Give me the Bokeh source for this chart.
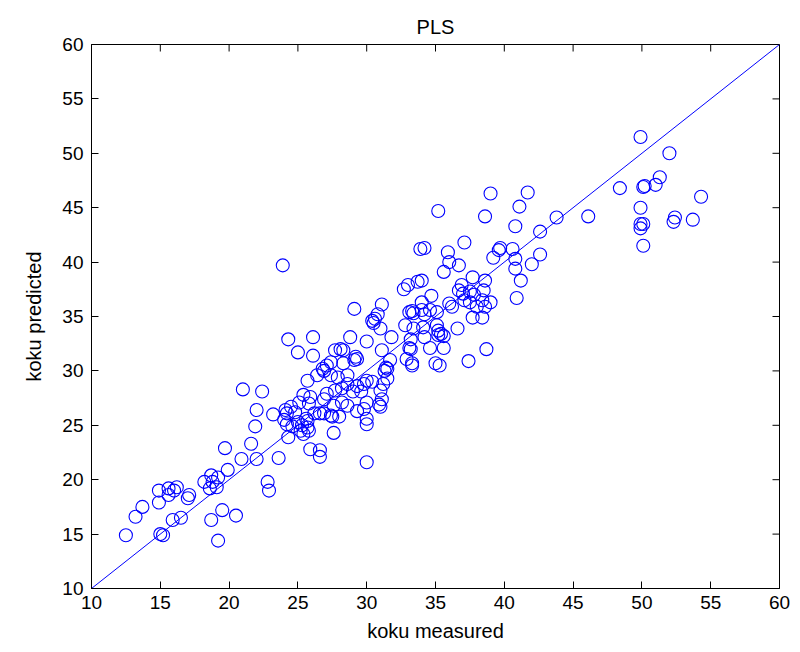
import math
from bokeh.plotting import figure
from bokeh.models import LinearAxis, ColumnDataSource, FixedTicker, Range1d
from bokeh.embed import file_html
from bokeh.resources import INLINE

measured = [
    12.5, 13.2, 13.7, 14.9, 14.9, 15.0, 15.2, 15.6, 15.6, 16.0, 16.2, 15.9, 16.5, 17.0, 17.1,
    18.2, 18.6, 18.7, 18.8, 19.1, 19.2, 18.7, 19.5, 19.2, 20.5, 19.7, 19.9, 20.9, 21.0, 21.6,
    21.9, 22.0, 22.0, 22.4, 22.8, 22.9, 23.2, 23.6, 24.0, 24.2, 24.3,
    23.9, 24.3, 25.0, 26.1, 26.1, 24.1, 24.5, 24.8, 24.2, 24.6, 25.0, 25.2, 25.4, 25.7, 25.8,
    25.3, 25.6, 25.7, 25.9, 26.6, 26.6, 25.1, 25.4, 25.8, 25.9, 25.7, 26.2, 26.6, 26.9, 26.9,
    27.1, 26.4, 26.9, 26.8, 27.1, 27.4, 27.4, 27.9, 27.7, 27.6, 27.4, 27.5, 27.6, 28.0, 28.2,
    28.2, 28.6, 28.6, 28.6, 28.3, 27.7, 28.1, 28.3, 28.8, 29.1, 29.1, 29.2, 29.3, 29.0, 29.3,
    29.6, 29.8, 30.0, 29.3, 29.8, 30.0, 30.0, 30.0, 30.0, 30.0, 30.4, 30.5, 30.6, 30.8, 31.1,
    31.0, 31.1, 31.0, 31.2, 31.1, 31.0, 30.9, 30.4, 31.3, 31.4, 31.5, 31.5, 31.7, 31.8,
    32.7, 33.0, 33.7, 33.9, 33.3, 33.1, 33.4, 32.8, 33.4, 33.2, 33.1, 33.2, 32.9, 33.3, 33.3,
    34.0, 34.0, 34.2, 34.7, 34.6, 35.1, 34.1, 34.2, 35.2, 35.4, 35.6, 35.2, 35.1, 34.6, 35.6,
    35.0, 35.3, 36.0, 36.2, 36.6, 37.4, 38.7, 34.0, 34.2, 35.2, 35.9, 36.0, 36.7, 35.6, 37.1,
    36.9, 36.7, 37.0, 37.5, 37.8, 37.1, 37.5, 38.4, 39.0, 38.0, 38.6, 37.7, 38.6, 38.5, 37.7,
    38.4, 39.0, 38.6, 41.7, 41.1, 40.8, 43.8, 46.1, 42.6, 39.7, 39.6, 40.6, 39.2, 40.8, 42.6,
    42.0, 40.8, 41.2, 40.9, 48.4, 49.9, 52.0, 51.3, 51.0, 50.2, 50.1, 54.3, 49.9, 52.4, 52.3,
    53.7, 49.9, 50.1, 49.9, 50.1,
]
predicted = [
    14.9, 16.6, 17.5, 17.9, 19.0, 15.0, 14.9, 19.2, 18.6, 19.0, 19.3, 16.3, 16.5, 18.3, 18.6,
    19.8, 19.2, 20.4, 19.8, 19.3, 20.2, 16.3, 17.2, 14.4, 16.7, 22.9, 20.9, 21.9, 28.3, 23.3,
    24.9, 26.4, 21.9, 28.1, 19.8, 19.0, 26.0, 22.0, 25.5, 26.1, 23.9,
    39.7, 32.9, 31.7, 33.1, 31.4, 26.4, 26.7, 26.2, 25.1, 24.9, 25.3, 24.5, 24.2, 24.8, 24.5,
    25.0, 25.6, 25.4, 22.8, 22.7, 22.1, 27.1, 27.8, 27.0, 27.6, 29.1, 26.1, 26.1, 26.1, 27.4,
    27.9, 29.6, 30.0, 30.2, 30.5, 30.8, 29.6, 29.4, 28.2, 26.8, 25.9, 25.8, 24.3, 25.8, 27.1,
    28.4, 26.8, 28.8, 29.6, 30.7, 31.9, 32.0, 31.9, 33.1, 35.7, 31.0, 31.3, 31.1, 28.1, 28.6,
    28.1, 28.8, 29.1, 26.3, 26.5, 27.1, 25.6, 25.1, 21.6, 32.7, 34.6, 34.4, 34.8, 35.2, 36.1,
    33.9, 31.9, 28.2, 28.8, 27.4, 26.7, 26.9, 29.0, 30.0, 30.3, 29.3, 30.2, 31.0, 33.1,
    37.5, 37.9, 38.2, 41.2, 35.5, 35.4, 35.3, 34.2, 33.9, 32.9, 32.1, 32.0, 31.1, 30.5, 30.7,
    36.3, 35.6, 35.2, 36.9, 35.6, 35.4, 34.0, 33.1, 33.3, 33.4, 33.2, 33.7, 34.2, 32.1, 32.1,
    30.7, 30.5, 36.2, 35.9, 33.9, 30.9, 32.0, 38.3, 41.3, 44.7, 40.9, 40.0, 39.7, 39.1, 41.8,
    37.9, 37.4, 37.1, 37.3, 37.0, 36.5, 36.3, 36.5, 36.3, 35.9, 35.9, 38.6, 38.3, 37.4, 34.9,
    34.9, 46.3, 44.2, 46.4, 45.1, 43.3, 44.1, 44.2, 42.8, 41.3, 41.1, 41.2, 40.4, 40.3, 40.7,
    39.8, 39.4, 38.3, 36.7, 46.8, 51.5, 50.0, 47.8, 47.1, 47.0, 46.9, 46.0, 45.0, 44.1, 43.7,
    43.9, 43.5, 43.5, 43.1, 41.5,
]
ticks = [10, 15, 20, 25, 30, 35, 40, 45, 50, 55, 60]
ident = [10, 60]
x_lo, x_hi = 10, 60
y_lo, y_hi = 10, 60

title_text = "PLS"
xlabel = "koku measured"
ylabel = "koku predicted"

FONT = "Liberation Sans"

p = figure(width=800, height=652, output_backend="svg", toolbar_location=None,
           x_range=Range1d(x_lo, x_hi), y_range=Range1d(y_lo, y_hi),
           min_border_left=91, min_border_right=21, min_border_top=44, min_border_bottom=64,
           x_axis_location=None, y_axis_location=None)
p.title.text = title_text
p.title.align = "center"
p.title.text_font = FONT
p.title.text_font_size = "20px"
p.title.text_font_style = "normal"
p.title.text_color = "black"
p.title.standoff = 14
p.xgrid.visible = False
p.ygrid.visible = False
p.outline_line_color = "black"
p.outline_line_width = 1
p.background_fill_color = "white"
p.border_fill_color = "white"


def style(ax):
    ax.ticker = FixedTicker(ticks=ticks)
    ax.major_tick_in = 7
    ax.major_tick_out = 0
    ax.minor_tick_in = 0
    ax.minor_tick_out = 0
    ax.axis_line_color = "black"
    ax.major_tick_line_color = "black"
    ax.major_label_text_font = FONT
    ax.major_label_text_color = "black"
    ax.major_label_text_font_size = "19px"
    ax.axis_label_text_font = FONT
    ax.axis_label_text_font_style = "normal"
    ax.axis_label_text_color = "black"
    ax.axis_label_text_font_size = "20px"


xb = LinearAxis(axis_label=xlabel)
style(xb)
xb.major_label_standoff = 7
xb.axis_label_standoff = 8
p.add_layout(xb, "below")

yl = LinearAxis(axis_label=ylabel)
style(yl)
yl.major_label_standoff = 8
yl.axis_label_standoff = 14
p.add_layout(yl, "left")

# inward ticks on the top and right edges of the box (MATLAB style)
p.ray(x=ticks, y=[y_hi] * len(ticks), length=7, length_units="screen",
      angle=-math.pi / 2, line_color="black", line_width=1)
p.ray(x=[x_hi] * len(ticks), y=ticks, length=7, length_units="screen",
      angle=math.pi, line_color="black", line_width=1)

p.line(ident, ident, line_color="#0000ff", line_width=1)

src = ColumnDataSource(dict(x=measured, y=predicted))
p.scatter("x", "y", source=src, marker="circle", size=13, fill_color=None,
          line_color="#0000ff", line_width=1.1)

open("out.html", "w").write(file_html(p, INLINE))
